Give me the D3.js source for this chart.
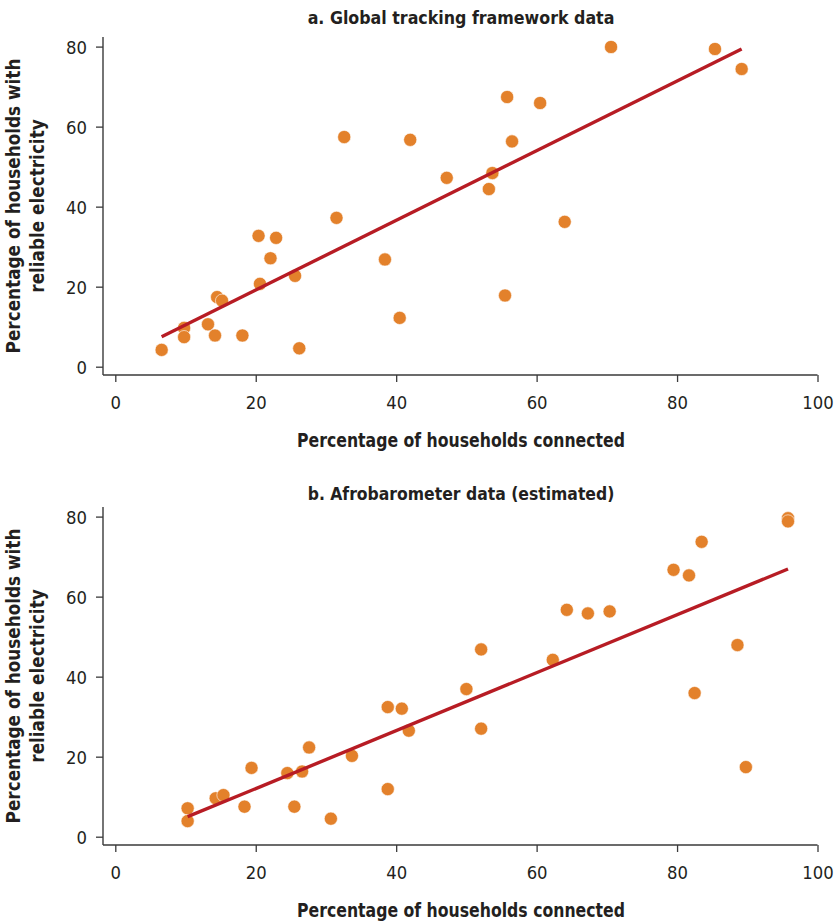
<!DOCTYPE html>
<html><head><meta charset="utf-8">
<script src="https://cdn.jsdelivr.net/npm/d3@7"></script>
<style>
body{margin:0;background:#fff}
svg{display:block}
text{font-family:"Liberation Sans Narrow","DejaVu Sans Condensed","Open Sans",sans-serif;fill:#231f20}
</style>
</head><body>
<svg id="c" width="834" height="922"></svg>
<script>
// ---- data ----
const xTicks = [0, 20, 40, 60, 80, 100];
const yTicks = [0, 20, 40, 60, 80];
const titles = ["a. Global tracking framework data", "b. Afrobarometer data (estimated)"];
const xLabel = "Percentage of households connected";
const yLabel = ["Percentage of households with", "reliable electricity"];

// a. Global tracking framework data
const gtfX = [6.6, 9.8, 9.8, 13.2, 14.2, 14.5, 15.2, 18.1, 20.4, 20.6, 22.1, 22.9, 25.6, 26.2, 31.5, 32.6,
              38.4, 40.5, 42.0, 47.2, 53.2, 53.7, 55.5, 55.8, 56.5, 60.5, 64.0, 70.6, 85.4, 89.2];
const gtfY = [4.2, 9.7, 7.4, 10.6, 7.8, 17.4, 16.5, 7.8, 32.7, 20.7, 27.1, 32.2, 22.7, 4.6, 37.2, 57.4,
              26.8, 12.2, 56.7, 47.2, 44.4, 48.4, 17.8, 67.4, 56.3, 65.9, 36.2, 79.9, 79.4, 74.4];
const gtfFitX = [6.6, 89.2];
const gtfFitY = [7.5, 79.4];

// b. Afrobarometer data (estimated)
const afroX = [10.3, 10.3, 14.3, 15.4, 18.4, 19.4, 24.5, 25.5, 26.6, 27.6, 30.7, 33.7, 38.8, 38.8, 40.8, 41.8,
               50.0, 52.1, 52.1, 62.3, 64.3, 67.3, 70.4, 79.5, 81.7, 83.5, 82.5, 88.6, 89.8, 95.8, 95.8];
const afroY = [7.1, 3.9, 9.6, 10.4, 7.5, 17.2, 15.9, 7.5, 16.3, 22.3, 4.5, 20.2, 32.4, 11.9, 32.0, 26.5,
               36.9, 46.8, 27.0, 44.2, 56.7, 55.8, 56.3, 66.7, 65.3, 73.7, 35.9, 47.9, 17.4, 79.6, 78.8];
const afroFitX = [10.3, 95.8];
const afroFitY = [5.0, 66.9];

// ---- drawing ----
const svg = d3.select("#c");
const DOT = "#e3812b", LINE = "#b71c24", AX = "#3a3a3a";

// draw text at a given size, then compress horizontally to a target width
function label(g, str, cx, cy, size, w, rot) {
  const t = g.append("text").attr("text-anchor", "middle").attr("font-weight", "bold")
    .attr("font-size", size).text(str);
  const l = t.node().getComputedTextLength();
  const sx = Math.min(1, w / l);
  t.attr("transform", `translate(${cx},${cy}) rotate(${rot || 0}) scale(${sx.toFixed(4)},1)`);
  return t;
}

function panel(offY, titleCY, title, xs, ys, fx, fy) {
  const g = svg.append("g").attr("transform", `translate(0,${offY})`);
  const x = d3.scaleLinear().domain([0, 100]).range([115.3, 817.5]);
  const y = d3.scaleLinear().domain([0, 80]).range([366.7, 46.6]);
  const axisY = 375, axisX = 103;

  // title
  label(g, title, 461, titleCY - offY + 7, 18.5, 307, 0);

  // x axis
  const xa = g.append("g").attr("transform", `translate(0,${axisY})`)
    .call(d3.axisBottom(x).tickValues(xTicks).tickSize(7).tickSizeOuter(0).tickFormat(d3.format("d")));
  xa.select(".domain").attr("d", `M${axisX},0H${x.range()[1]}`)
    .attr("stroke", AX).attr("stroke-width", 1.4);
  xa.selectAll(".tick line").attr("stroke", AX).attr("stroke-width", 1.3);
  xa.selectAll(".tick text").attr("y", 34).attr("dy", 0).attr("font-size", 18.3)
    .attr("font-family", null).style("fill", "#231f20");

  // y axis
  const ya = g.append("g").attr("transform", `translate(${axisX},0)`)
    .call(d3.axisLeft(y).tickValues(yTicks).tickSize(7).tickSizeOuter(0));
  ya.select(".domain").attr("d", `M0,37V${axisY}`).attr("stroke", AX).attr("stroke-width", 1.4);
  ya.selectAll(".tick line").attr("stroke", AX).attr("stroke-width", 1.3);
  ya.selectAll(".tick text").attr("x", -16).attr("dy", "0.35em").attr("font-size", 18.3)
    .attr("font-family", null).style("fill", "#231f20");

  // axis titles
  label(g, xLabel, 461, 447, 19, 328, 0);
  const t1 = label(g, yLabel[0], 20, 206, 19, 295, -90);
  const sx = t1.attr("transform").match(/scale\(([\d.]+)/)[1];
  g.append("text").attr("text-anchor", "middle").attr("font-weight", "bold").attr("font-size", 19)
    .attr("transform", `translate(44,206) rotate(-90) scale(${sx},1)`).text(yLabel[1]);

  // points
  g.append("g").selectAll("circle").data(xs.map((v, i) => [v, ys[i]])).join("circle")
    .attr("cx", d => x(d[0])).attr("cy", d => y(d[1])).attr("r", 6.6)
    .attr("fill", DOT).attr("stroke", "#fff").attr("stroke-width", 0.6);

  // fit line
  g.append("path").datum(fx.map((v, i) => [v, fy[i]]))
    .attr("d", d3.line().x(d => x(d[0])).y(d => y(d[1])))
    .attr("fill", "none").attr("stroke", LINE).attr("stroke-width", 3.4);
}

panel(0, 17, titles[0], gtfX, gtfY, gtfFitX, gtfFitY);
panel(470, 493, titles[1], afroX, afroY, afroFitX, afroFitY);
</script>
</body></html>
